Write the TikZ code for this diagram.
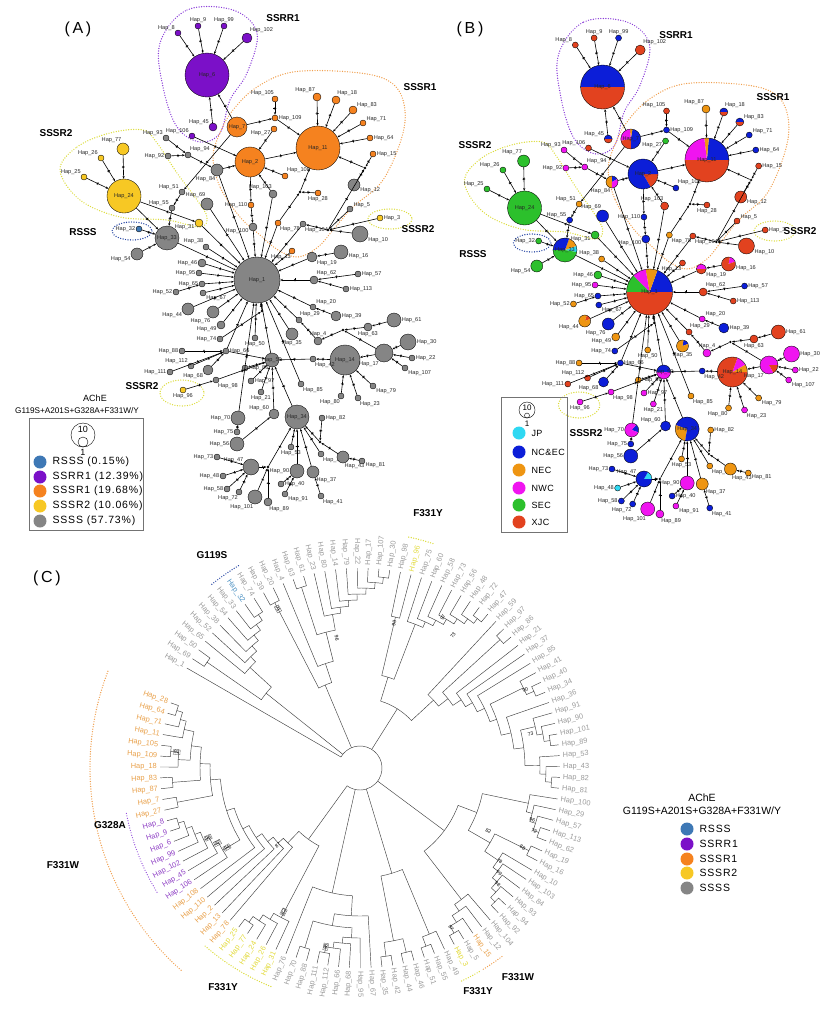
\documentclass[tikz,border=0pt]{standalone}
\usepackage{fontspec}
\setmainfont{Liberation Sans}
\usetikzlibrary{arrows.meta,decorations.markings}

% haplotype groups (A, C)
\definecolor{pA}{HTML}{7B10C8}
\definecolor{oA}{HTML}{F5821F}
\definecolor{yA}{HTML}{F7C824}
\definecolor{bA}{HTML}{3E78B5}
\definecolor{gA}{HTML}{858585}
% regions (B)
\definecolor{jp}{HTML}{2FD8F2}
\definecolor{nc}{HTML}{0C1ED8}
\definecolor{ne}{HTML}{EE9512}
\definecolor{nw}{HTML}{F014F0}
\definecolor{se}{HTML}{2CC02C}
\definecolor{xj}{HTML}{E2421F}
% hulls and tree labels
\definecolor{hP}{HTML}{8A3CD8}
\definecolor{hO}{HTML}{F0A050}
\definecolor{hY}{HTML}{DCDC3A}
\definecolor{hB}{HTML}{1F3FA0}
\definecolor{tg}{HTML}{9A9A9A}
\definecolor{to}{HTML}{E8A04A}
\definecolor{tp}{HTML}{8E3FC4}
\definecolor{ty}{HTML}{E2DA3C}
\definecolor{tb}{HTML}{4F93C4}

\tikzset{
  hap/.style={circle, draw=black, line width=0.35pt, inner sep=0pt},
  hl/.style={font=\fontsize{5.6}{6}\selectfont, inner sep=0.4pt, text=black!85},
  med/.style={circle, fill=black, inner sep=0pt, minimum size=2.6pt},
  mut/.style={postaction={decorate, decoration={markings,
      mark=at position 0.5 with {\draw[line width=0.5pt] (0,-1.6pt) -- (0,1.6pt);}}}},
  lnk/.style={line width=0.6pt, -{Stealth[length=2.8pt,width=2.2pt]}, mut},
  hull/.style={line width=1.4pt, dash pattern=on 0pt off 2.5pt, line cap=round},
  grp/.style={font=\bfseries\fontsize{10}{12}\selectfont},
  ptitle/.style={font=\fontsize{16}{18}\selectfont},
  br/.style={line width=0.45pt, draw=black!75},
  lf/.style={font=\fontsize{7.4}{8}\selectfont, inner sep=0pt},
  bs/.style={font=\fontsize{5}{6}\selectfont, inner sep=0.6pt},
  bsb/.style={bs, draw=black!70, line width=0.3pt},
  legtxt/.style={anchor=west, font=\fontsize{10.5}{12}\selectfont\addfontfeatures{LetterSpace=8}},
}

% name/x/y/radius/label position/colour in A/colour in B
\def\haptab{6/207/75/22/center/pA/none, 8/178/33/3/150/pA/xj, 9/198/26/3/90/pA/xj,
 99/224/26/3/90/pA/nc, 102/247/38/5/60/pA/xj, 45/213/127/4/150/pA/none,
 106/192/136/3/150/pA/xj, 7/237/127/10/center/oA/none, 105/275/99/3/100/oA/xj,
 109/275/118/3/0/oA/nc, 87/317/97/4/110/oA/ne, 18/336/100/4/80/oA/none,
 83/353/110/4/30/oA/none, 71/363/123/3/20/oA/nc, 64/370/138/3/0/oA/nc,
 15/373/154/3/0/oA/xj, 11/318/148/22/center/oA/none, 27/274/129/3/200/oA/se,
 2/250/162/15/center/oA/none, 108/285/176/3/60/oA/nc, 103/273/194/4/100/gA/xj,
 28/318/193/3/-90/oA/xj, 12/354/185/6/-20/gA/xj, 5/350/209/3/20/gA/xj,
 3/380/218/3/0/yA/xj, 10/360/234/8/-20/gA/xj, 104/303/224/3/-60/gA/xj,
 78/278/223/3/-60/oA/ne, 110/251/205/3/180/oA/nc, 100/253/227/4/200/gA/nc,
 84/217/170/6/-100/gA/none, 69/207/204/6/100/gA/nc, 93/166/138/3/150/gA/nw,
 92/168/156/3/180/gA/nw, 94/188/155/3/60/gA/nw, 51/182/192/3/150/gA/ne,
 55/172/208/3/150/gA/nc, 31/199/223/4/200/yA/se, 38/206/247/3/130/gA/ne,
 33/167/238/12/center/gA/none, 32/139/229/3/180/bA/se, 54/137/254/6/200/gA/se,
 24/124/196/17/center/yA/se, 77/123/149/6/100/yA/se, 26/101/158/3/150/yA/se,
 25/84/177/3/150/yA/se, 1/257/280/23/center/gA/none, 19/312/257/5/-30/gA/none,
 16/341/252/7/-10/gA/none, 13/292/251/3/-100/oA/xj, 62/314/280/4/60/gA/xj,
 57/358/274/3/0/gA/nc, 113/346/289/3/0/gA/xj, 20/313/307/3/30/gA/nw,
 39/336/316/5/0/gA/nc, 29/299/320/3/80/gA/xj, 4/318/341/4/90/gA/nw,
 61/394/320/7/0/gA/xj, 63/368/327/4/-90/gA/xj, 30/408/342/8/0/gA/nw,
 14/345/360/15/center/gA/none, 17/384/353/9/-120/gA/none, 22/412/358/3/0/gA/nw,
 107/405/368/3/-30/gA/nw, 42/313/359/3/-60/gA/nc, 35/292/334/6/-90/gA/none,
 50/255/338/3/-90/gA/ne, 59/272/360/7/center/gA/none, 66/226/351/3/0/gA/nc,
 88/182/351/3/180/gA/ne, 112/191/366/3/150/gA/xj, 111/170/372/3/180/gA/xj,
 68/208/370/5/-150/gA/nc, 98/216/380/3/-60/gA/nw, 96/183/390/3/-90/yA/nw,
 86/245/368/3/0/gA/ne, 97/251/381/3/0/gA/nw, 21/261/392/3/-90/gA/nw,
 60/274/414/5/150/gA/nc, 70/238/418/7/180/gA/none, 34/297/417/12/center/gA/none,
 82/322/418/3/0/gA/ne, 85/301/384/3/-60/gA/ne, 79/373/386/3/-30/gA/ne,
 23/358/398/3/-60/gA/nw, 80/341/396/3/-100/gA/ne, 75/237/432/3/180/gA/nc,
 56/237/444/7/180/gA/nc, 73/217/457/3/180/gA/nc, 47/251/467/8/150/gA/none,
 53/291/447/3/-90/gA/ne, 36/321/454/3/-60/gA/ne, 43/343/457/6/-80/gA/ne,
 81/362/461/3/-20/gA/ne, 90/297/471/7/180/gA/nw, 37/313/472/6/-60/gA/ne,
 40/281/484/3/0/gA/nc, 48/223/476/3/180/gA/jp, 58/227/489/3/180/gA/nc,
 72/239/492/3/-100/gA/nc, 101/255/497/7/-100/gA/nw, 89/268/502/4/-80/gA/nw,
 91/285/494/3/-30/gA/nw, 41/321/496/3/-60/gA/nc, 44/188/309/6/-150/gA/none,
 46/202/263/4/180/gA/se, 49/221/325/4/-160/gA/ne, 52/176/292/3/180/gA/ne,
 65/202/284/3/180/gA/nc, 67/203/293/3/-30/gA/nc, 74/220/339/3/180/gA/nc,
 76/213/312/6/-110/gA/nc, 95/199/273/3/180/gA/nw}
\def\medtab{j1/365/168, j2/300/192, j3/328/230, j4/343/330, j5/268/467, j6/320/442, j7/262/311}
\def\edgetab{8/6, 9/6, 99/6, 102/6, 45/6, 7/6, 106/2, 7/109, 105/109, 109/11, 7/51,
 51/55, 55/33, 27/2, 2/11, 108/2, 87/11, 18/11, 83/11, 71/11, 64/11, j1/11, 15/j1,
 12/j1, 2/110, 110/100, 100/1, 84/2, 94/84, 93/94, 92/94, 84/1, 69/1, 103/2, 103/1,
 j2/11, 28/j2, 78/j2, 78/1, 5/j3, 3/j3, 10/j3, j3/j1, j3/104, 104/1, 13/1, 16/19,
 19/1, 62/1, 57/62, 113/62, 20/1, 39/20, 29/1, 4/29, j4/4, 63/j4, 61/63, 17/j4,
 30/17, 22/17, 107/17, 17/14, 14/42, 42/59, 79/14, 23/14, 80/14, 59/1, 50/1, 35/1,
 85/1, 66/59, 88/66, 112/66, 111/66, 68/66, 66/1, 98/59, 96/98, 86/59, 97/59,
 21/59, 60/59, 34/59, 70/1, 75/70, 56/60, 73/47, 48/47, 58/47, 72/47, 47/j5,
 101/j5, 89/j5, j5/34, 53/34, 36/34, 43/j6, 81/43, 82/j6, j6/34, 90/34, 37/34,
 40/90, 91/90, 41/37, 46/1, 95/1, 65/1, 52/65, 67/1, 44/1, 76/1, 49/1, 74/j7,
 j7/1, 38/1, 33/1, 32/33, 54/33, 24/33, 31/1, 24/31, 77/24, 26/24, 25/24}
% name/radius/{colour/start/end}
\def\pietab{6/22/{nc/0/180, xj/180/360}, 45/4/{nc/0/180, xj/180/360},
 7/10/{nc/-90/80, ne/80/95, nw/95/190, xj/190/270},
 11/22/{nc/0/85, ne/85/97, nw/97/180, xj/180/360}, 2/15/{xj/-60/0, nc/0/300},
 18/4/{nc/0/180, xj/180/360}, 83/4/{nc/0/180, xj/180/360},
 84/6/{nc/30/90, ne/90/270, nw/270/390},
 33/12/{jp/-10/20, ne/20/70, nc/70/180, se/180/350},
 1/23/{nc/0/70, ne/70/100, nw/100/135, se/135/180, xj/180/360},
 19/5/{nw/0/180, xj/180/360}, 16/7/{nw/20/80, xj/80/380},
 44/6/{xj/20/70, ne/70/380}, 35/6/{nc/20/80, ne/80/380},
 14/15/{ne/0/30, nw/30/70, xj/70/360}, 17/9/{nw/0/300, xj/300/360},
 59/7/{nc/0/180, nw/180/360}, 70/7/{nc/-20/50, nw/50/340},
 34/12/{ne/160/260, nc/260/520}, 47/8/{jp/0/60, nc/60/360}}
% position around the tree/haplotype/colour
\def\leaftab{1/1/tg, 2/69/tg, 3/50/tg, 4/65/tg, 5/52/tg, 6/38/tg, 7/54/tg, 8/33/tg,
 9/32/tb, 10/74/tg, 11/39/tg, 12/20/tg, 13/4/tg, 14/63/tg, 15/61/tg, 16/23/tg,
 17/80/tg, 18/14/tg, 19/79/tg, 20/22/tg, 21/17/tg, 22/107/tg, 23/30/tg, 24/98/tg,
 25/96/ty, 26/75/tg, 27/60/tg, 28/58/tg, 29/73/tg, 30/56/tg, 31/48/tg, 32/72/tg,
 33/47/tg, 34/59/tg, 35/97/tg, 36/86/tg, 37/21/tg, 38/37/tg, 39/85/tg, 40/41/tg,
 41/40/tg, 42/34/tg, 43/36/tg, 44/91/tg, 45/90/tg, 46/101/tg, 47/89/tg, 48/53/tg,
 49/43/tg, 50/82/tg, 51/81/tg, 52/100/tg, 53/29/tg, 54/57/tg, 55/113/tg, 56/62/tg,
 57/19/tg, 58/16/tg, 59/10/tg, 60/103/tg, 61/84/tg, 62/93/tg, 63/94/tg, 64/92/tg,
 65/104/tg, 66/12/tg, 67/15/to, 68/5/tg, 69/3/ty, 70/49/tg, 71/55/tg, 72/51/tg,
 73/46/tg, 74/44/tg, 75/42/tg, 76/35/tg, 77/67/tg, 78/95/tg, 79/68/tg, 80/66/tg,
 81/112/tg, 82/111/tg, 83/88/tg, 84/70/tg, 85/76/tg, 86/31/ty, 87/26/ty, 88/24/ty,
 89/77/ty, 90/25/ty, 91/78/to, 92/13/to, 93/2/to, 94/110/to, 95/108/to, 96/106/tp,
 97/45/tp, 98/102/tp, 99/99/tp, 100/6/tp, 101/9/tp, 102/8/tp, 103/27/to, 104/7/to,
 105/87/to, 106/83/to, 107/18/to, 108/109/to, 109/105/to, 110/11/to, 111/71/to,
 112/64/to, 113/28/to}

% dotted outlines of the network groups
\newcommand\hulls{%
  \draw[hull, hP] plot[smooth cycle, tension=0.6] coordinates {(160,43) (187,10) (233,10)
    (257,33) (247,73) (230,100) (220,133) (200,142) (177,127) (163,87)};
  \draw[hull, hO] plot[smooth cycle, tension=0.6] coordinates {(240,217) (220,187)
    (213,157) (220,133) (233,110) (257,87) (293,72) (350,72) (387,80) (403,100)
    (403,133) (383,180) (353,207) (333,230) (318,247) (298,257) (278,250) (260,235)};
  \draw[hull, hY] plot[smooth cycle, tension=0.6] coordinates {(60,170) (77,147)
    (110,133) (143,130) (157,143) (177,173) (197,200) (207,217) (200,227) (167,220)
    (120,217) (80,200)};
  \draw[hull, hB] (132,231) ellipse[x radius=20, y radius=9];
  \draw[hull, hY] (390,219) ellipse[x radius=22, y radius=10];
  \draw[hull, hY] (182,393) ellipse[x radius=22, y radius=13];
}

% circular tree helpers
\def\Rleaf{200}
\newcommand\cladeleaf[1]{\xdef\cpos{#1}\xdef\crad{\Rleaf}}
\newcommand\cladecombon[4]{%
  \foreach \k in {#2,...,#1}{%
    \pgfmathsetmacro\rk{#3-(#2-\k)*#4}%
    \draw[br] ({leafang(\k)}:\Rleaf) -- ({leafang(\k)}:\rk)
      arc[start angle={leafang(\k)}, end angle={leafang(\cpos)}, radius=\rk]
      -- ({leafang(\cpos)}:\crad);
    \pgfmathsetmacro\np{(\k+\cpos)/2}%
    \xdef\cpos{\np}\xdef\crad{\rk}%
  }}
\newcommand\cladecomb[4]{\cladeleaf{#2}\pgfmathtruncatemacro\kb{#2-1}\cladecombon{#1}{\kb}{#3}{#4}}
\newcommand\cladesave[1]{\expandafter\xdef\csname sp#1\endcsname{\cpos}%
  \expandafter\xdef\csname sr#1\endcsname{\crad}}
\newcommand\cladejoin[3]{%
  \edef\jpa{\csname sp#1\endcsname}\edef\jra{\csname sr#1\endcsname}%
  \edef\jpb{\csname sp#2\endcsname}\edef\jrb{\csname sr#2\endcsname}%
  \draw[br] ({leafang(\jpa)}:\jra) -- ({leafang(\jpa)}:#3)
    arc[start angle={leafang(\jpa)}, end angle={leafang(\jpb)}, radius=#3]
    -- ({leafang(\jpb)}:\jrb);
  \pgfmathsetmacro\np{(\jpa+\jpb)/2}\xdef\cpos{\np}\xdef\crad{#3}}

\begin{document}
\begin{tikzpicture}[x=1pt, y=-1pt, declare function={leafang(\p)=150-(\p-1)*3.116;}]
\useasboundingbox (0,0) rectangle (831,1009);

%%% (A) network coloured by genotype
\node[ptitle] (titleA) at (78,29) {(\,A\,)};
\hulls
\foreach \n/\x/\y/\rr/\lp/\ca/\cb in \haptab {
  \node[hap, minimum size=2*\rr pt, fill=\ca, label={[hl]\lp:Hap\_\n}] (a\n) at (\x,\y) {};
}
\foreach \n/\x/\y in \medtab {\node[med] (a\n) at (\x,\y) {};}
\foreach \s/\t in \edgetab {\draw[lnk] (a\s) -- (a\t);}
\node[grp] (aSSRR1) at (283,18) {SSRR1};
\node[grp] (aSSSR1) at (420,87) {SSSR1};
\node[grp] (aSSSR2a) at (56,133) {SSSR2};
\node[grp] (aRSSS) at (83,232) {RSSS};
\node[grp] (aSSSR2b) at (418,229) {SSSR2};
\node[grp] (aSSSR2c) at (142,386) {SSSR2};
% legend A
\node[font=\fontsize{9}{10}\selectfont] (aAChE) at (95,398) {AChE};
\node[font=\fontsize{8.2}{10}\selectfont] (aMut) at (77,411) {G119S+A201S+G328A+F331W/Y};
\draw[line width=0.7pt, draw=black!55] (29,418) rectangle (143,530);
\node[circle, draw, line width=0.4pt, minimum size=24pt, inner sep=0pt] (aKey10) at (83,435) {};
\node[font=\fontsize{9}{10}\selectfont] (aKey10t) at (83,429) {10};
\node[circle, draw, line width=0.4pt, minimum size=10pt, inner sep=0pt] (aKey1) at (83,442) {};
\node[font=\fontsize{9}{10}\selectfont] (aKey1t) at (83,452) {1};
\foreach \yy/\cc/\txt in {462/bA/RSSS (0.15\%), 477/pA/SSRR1 (12.39\%),
    491/oA/SSSR1 (19.68\%), 506/yA/SSSR2 (10.06\%), 521/gA/SSSS (57.73\%)} {
  \fill[\cc] (40,\yy) circle (6.5);
  \node[legtxt] (aLeg\cc) at (49,\yy) {\txt};
}

%%% (B) network coloured by region
\node[ptitle] (titleB) at (470,29) {(\,B\,)};
\begin{scope}[shift={(408,12)}, xscale=0.94]
  \hulls
\end{scope}
\foreach \n/\x/\y/\rr/\lp/\ca/\cb in \haptab {\coordinate (c\n) at ({0.94*\x+408},{\y+12});}
\foreach \n/\rr/\segs in \pietab {
  \foreach \cc/\s/\e in \segs {
    \fill[\cc] (c\n) -- ++(\s:\rr pt) arc[start angle=\s, end angle=\e, radius=\rr pt] -- cycle;
  }
}
\foreach \n/\x/\y/\rr/\lp/\ca/\cb in \haptab {
  \node[hap, minimum size=2*\rr pt, fill=\cb, label={[hl]\lp:Hap\_\n}] (b\n) at (c\n) {};
}
\foreach \n/\x/\y in \medtab {\node[med] (b\n) at ({0.94*\x+408},{\y+12}) {};}
\foreach \s/\t in \edgetab {\draw[lnk] (b\s) -- (b\t);}
\node[grp] (bSSRR1) at (676,35) {SSRR1};
\node[grp] (bSSSR1) at (773,97) {SSSR1};
\node[grp] (bSSSR2a) at (475,145) {SSSR2};
\node[grp] (bRSSS) at (473,254) {RSSS};
\node[grp] (bSSSR2b) at (800,231) {SSSR2};
\node[grp] (bSSSR2c) at (586,433) {SSSR2};
% legend B
\draw[line width=0.7pt, draw=black!55] (501,397) rectangle (567,532);
\node[circle, draw, line width=0.4pt, minimum size=16pt, inner sep=0pt] (bKey10) at (527,410) {};
\node[font=\fontsize{8}{9}\selectfont] (bKey10t) at (527,408) {10};
\node[circle, draw, line width=0.4pt, minimum size=5pt, inner sep=0pt] (bKey1) at (527,415.5) {};
\node[font=\fontsize{8}{9}\selectfont] (bKey1t) at (527,424) {1};
\foreach \yy/\cc/\txt in {433/jp/JP, 452/nc/NC\&EC, 470/ne/NEC, 488/nw/NWC,
    505/se/SEC, 522/xj/XJC} {
  \fill[\cc] (519,\yy) circle (6.5);
  \node[anchor=west, font=\fontsize{9}{10}\selectfont\addfontfeatures{LetterSpace=5}] (bLeg\cc) at (528,\yy) {\txt};
}

%%% (C) circular tree
\node[ptitle] (titleC) at (47,578) {(\,C\,)};
\begin{scope}[shift={(360,768)}, yscale=-1]
  % top-left
  \cladeleaf{1}\cladesave{T1}
  \cladecomb{2}{3}{186}{0}\cladesave{P23}
  \cladecomb{4}{10}{184}{7}\cladesave{C410}
  \cladejoin{P23}{C410}{120}\cladesave{T2}
  % top
  \cladecomb{11}{12}{186}{0}\cladesave{P1112}
  \cladecomb{14}{15}{190}{0}\cladesave{P1415}
  \cladecomb{16}{23}{192}{6}\cladesave{C1623}
  \cladejoin{P1415}{C1623}{140}
  \cladecombon{13}{13}{110}{0}\cladesave{Q}
  \cladejoin{P1112}{Q}{90}\cladesave{T3}
  % top-right
  \cladecomb{24}{25}{155}{0}\cladesave{A}
  \cladecomb{26}{33}{190}{6}\cladesave{B}
  \cladejoin{A}{B}{95}\cladesave{TFa}
  \cladecomb{35}{36}{190}{0}\cladesave{PTF}
  \cladecomb{40}{42}{190}{8}\cladesave{GF}
  \cladecomb{44}{47}{192}{6}\cladesave{GFF}
  \cladecomb{48}{51}{192}{6}\cladesave{GFE}
  \cladejoin{GFF}{GFE}{165}
  \cladecombon{43}{43}{155}{0}\cladesave{HA}
  \cladejoin{GF}{HA}{145}
  \cladecombon{37}{39}{138}{8}\cladesave{HC}
  \cladejoin{PTF}{HC}{112}
  \cladecombon{34}{34}{100}{0}\cladesave{HE}
  \cladejoin{TFa}{HE}{70}\cladesave{T4}
  % lower right
  \cladecomb{52}{56}{190}{6}\cladesave{KA}
  \cladecomb{57}{58}{188}{0}\cladesave{KB}
  \cladecomb{59}{64}{190}{6}\cladesave{KC}
  \cladejoin{KB}{KC}{150}\cladesave{KD}
  \cladejoin{KA}{KD}{125}\cladesave{KE}
  \cladecomb{65}{69}{190}{8}\cladesave{KF}
  \cladejoin{KE}{KF}{105}\cladesave{T5}
  % bottom
  \cladecomb{70}{72}{190}{10}\cladesave{MA}
  \cladecomb{73}{74}{190}{0}\cladesave{MBa}
  \cladecomb{75}{76}{190}{0}\cladesave{MBb}
  \cladejoin{MBa}{MBb}{176}\cladesave{MB}
  \cladejoin{MA}{MB}{110}\cladesave{T6a}
  \cladecomb{78}{82}{188}{6}\cladesave{NB}
  \cladecomb{83}{84}{188}{0}\cladesave{NA}
  \cladejoin{NB}{NA}{160}
  \cladecombon{77}{77}{148}{0}\cladesave{ND}
  \cladeleaf{85}\cladesave{LE}
  \cladejoin{ND}{LE}{128}\cladesave{T6c}
  % F331Y and F331W clades
  \cladecomb{86}{90}{190}{7}\cladesave{Y}
  \cladecomb{110}{113}{192}{6}\cladesave{WA}
  \cladecomb{107}{109}{190}{8}\cladesave{WB}
  \cladejoin{WB}{WA}{170}\cladesave{WC}
  \cladecomb{105}{106}{188}{0}\cladesave{WD}
  \cladejoin{WD}{WC}{160}\cladesave{WE}
  \cladecomb{103}{104}{186}{0}\cladesave{WF}
  \cladejoin{WF}{WE}{150}\cladesave{WG}
  \cladecomb{96}{102}{190}{6}\cladesave{WH}
  \cladejoin{WH}{WG}{140}
  \cladecombon{91}{95}{132}{7}\cladesave{WJ}
  \cladejoin{Y}{WJ}{88}\cladesave{T7}
  % root
  \edef\pfirst{\csname spT1\endcsname}\edef\plast{\csname spT7\endcsname}
  \draw[br] ({leafang(\pfirst)}:22) arc[start angle={leafang(\pfirst)}, end angle={leafang(\plast)}, radius=22];
  \foreach \t in {T1,T2,T3,T4,T5,T6a,T6c,T7} {
    \edef\jpa{\csname sp\t\endcsname}\edef\jra{\csname sr\t\endcsname}
    \draw[br] ({leafang(\jpa)}:22) -- ({leafang(\jpa)}:\jra);
  }
  % tip labels
  \foreach \i/\n/\cc in \leaftab {
    \pgfmathsetmacro\aa{leafang(\i)}
    \pgfmathtruncatemacro\lft{(\aa>90)||(\aa<-90)}
    \ifnum\lft=1
      \node[lf, text=\cc, anchor=east, rotate=\aa+180] (leaf\n) at (\aa:203) {Hap\_\n};
    \else
      \node[lf, text=\cc, anchor=west, rotate=\aa] (leaf\n) at (\aa:203) {Hap\_\n};
    \fi
  }
  % bootstrap values
  \foreach \p/\rr/\v/\st in {11.5/179/71/bsb, 17/132/96/bs, 24.5/149/90/bs,
      29.5/172/97/bs, 31.5/162/73/bs, 41/183/90/bs, 45.5/174/73/bs, 54.5/180/96/bs,
      55.5/185/72/bs, 57.5/143/82/bs, 57.5/181/88/bs, 60/168/78/bs, 61/174/99/bs,
      62/180/98/bs, 68.5/184/97/bs, 81.5/182/98/bsb, 87/163/82/bsb, 93/113/87/bs,
      97/155/94/bsb, 98/161/92/bsb, 99/167/96/bsb, 108.5/184/92/bsb} {
    \pgfmathsetmacro\aa{leafang(\p)}
    \pgfmathtruncatemacro\lft{(\aa>90)||(\aa<-90)}
    \ifnum\lft=1
      \node[\st, rotate=\aa+180] (bs\p) at (\aa:\rr) {\v};
    \else
      \node[\st, rotate=\aa] (bs\p) at (\aa:\rr) {\v};
    \fi
  }
  % mutation brackets
  \draw[hull, hO] (159:270) arc[start angle=159, end angle=229, radius=270];
  \draw[hull, hP, line width=1.2pt] (191:238) arc[start angle=191, end angle=212, radius=238];
  \draw[hull, hY] (229:236) arc[start angle=229, end angle=248, radius=236];
  \draw[hull, hB] (121:236) arc[start angle=121, end angle=129, radius=236];
  \draw[hull, hY] (72:236) arc[start angle=72, end angle=78.5, radius=236];
  \draw[hull, hO] (-58.5:236) arc[start angle=-58.5, end angle=-53, radius=236];
  \draw[hull, hY] (-64.5:236) arc[start angle=-64.5, end angle=-59.5, radius=236];
\end{scope}
\node[grp] (cF331Wa) at (63,865) {F331W};
\node[grp] (cG328A) at (110,825) {G328A};
\node[grp] (cF331Ya) at (223,987) {F331Y};
\node[grp] (cG119S) at (212,555) {G119S};
\node[grp] (cF331Yb) at (428,513) {F331Y};
\node[grp] (cF331Wb) at (518,977) {F331W};
\node[grp] (cF331Yc) at (478,991) {F331Y};
% legend C
\node[font=\fontsize{10.5}{12}\selectfont] (cAChE) at (702,798) {AChE};
\node[font=\fontsize{10.5}{12}\selectfont] (cMut) at (702,811) {G119S+A201S+G328A+F331W/Y};
\foreach \yy/\cc/\txt in {829/bA/RSSS, 844/pA/SSRR1, 859/oA/SSSR1, 873/yA/SSSR2, 888/gA/SSSS} {
  \fill[\cc] (687,\yy) circle (6.5);
  \node[legtxt] (cLeg\cc) at (696,\yy) {\txt};
}
\end{tikzpicture}
\end{document}
